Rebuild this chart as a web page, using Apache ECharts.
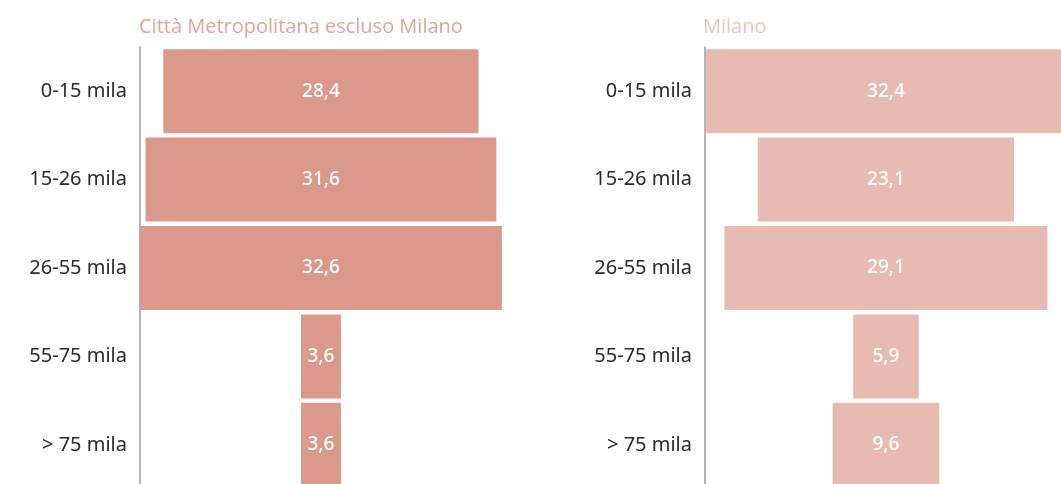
<!DOCTYPE html>
<html>
<head>
<meta charset="utf-8">
<script src="https://cdn.jsdelivr.net/npm/echarts@6/dist/echarts.min.js"></script>
<style>
  html, body { margin: 0; padding: 0; background: #fff; overflow: hidden; }
  #chart { width: 1160px; height: 500px; }
</style>
</head>
<body>
<div id="chart"></div>
<script>
// fasce di reddito
const categories = ['0-15 mila', '15-26 mila', '26-55 mila', '55-75 mila', '> 75 mila'];
const cittaMetro = [28.4, 31.6, 32.6, 3.6, 3.6];
const milano = [32.4, 23.1, 29.1, 5.9, 9.6];
const titles = ['Città Metropolitana escluso Milano', 'Milano'];

// centro comune delle barre (metà del valore massimo)
const center = Math.max(...cittaMetro, ...milano) / 2;
const offset = arr => arr.map(v => +(center - v / 2).toFixed(2));

const colLeft = '#db998b';
const colRight = '#e8bbb2';
const labelFont = '"Noto Sans", sans-serif';

const chart = echarts.init(document.getElementById('chart'));

function yAxisFor(gridIndex) {
  return {
    type: 'category',
    gridIndex: gridIndex,
    data: categories,
    inverse: true,
    axisLine: { show: true, lineStyle: { color: '#9a9a9a', width: 1.5 } },
    axisTick: { show: false },
    axisLabel: {
      margin: 13,
      fontSize: 20,
      color: '#2a2a2a',
      fontFamily: labelFont
    }
  };
}

function xAxisFor(gridIndex) {
  return {
    type: 'value',
    gridIndex: gridIndex,
    min: 0,
    max: 40,
    show: false,
    splitLine: { show: false }
  };
}

function barPair(gridIndex, values, color, stack) {
  return [
    {
      type: 'bar',
      xAxisIndex: gridIndex,
      yAxisIndex: gridIndex,
      stack: stack,
      data: offset(values),
      itemStyle: { color: 'transparent' },
      barCategoryGap: '5%',
      silent: true
    },
    {
      type: 'bar',
      xAxisIndex: gridIndex,
      yAxisIndex: gridIndex,
      stack: stack,
      data: values,
      itemStyle: { color: color },
      barCategoryGap: '5%',
      label: {
        show: true,
        position: 'inside',
        color: '#fff',
        fontSize: 19,
        fontWeight: 500,
        fontFamily: labelFont,
        formatter: p => String(p.value).replace('.', ',')
      }
    }
  ];
}

chart.setOption({
  animation: false,
  title: [
    {
      text: titles[0],
      left: 134,
      top: 12,
      textStyle: { color: '#e3a497', fontSize: 20, fontWeight: 'normal', fontFamily: '"Open Sans", sans-serif' }
    },
    {
      text: titles[1],
      left: 698,
      top: 12,
      textStyle: { color: '#f0c3ba', fontSize: 20, fontWeight: 'normal', fontFamily: '"Open Sans", sans-serif' }
    }
  ],
  grid: [
    { left: 140, top: 47, width: 444, height: 442 },
    { left: 705, top: 47, width: 444, height: 442 }
  ],
  xAxis: [xAxisFor(0), xAxisFor(1)],
  yAxis: [yAxisFor(0), yAxisFor(1)],
  series: [
    ...barPair(0, cittaMetro, colLeft, 'a'),
    ...barPair(1, milano, colRight, 'b')
  ]
});
</script>
</body>
</html>
